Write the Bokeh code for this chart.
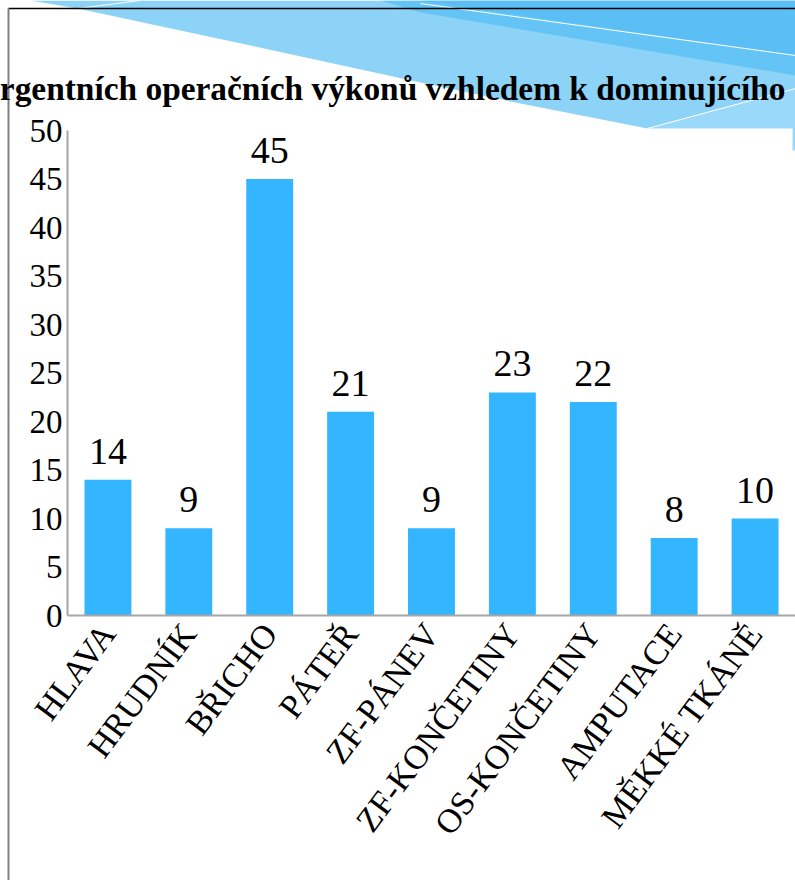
from bokeh.plotting import figure
from bokeh.models import (Range1d, ColumnDataSource, LabelSet, Label, LinearAxis,
                          PolyAnnotation, FixedTicker)
from bokeh.core.properties import value
from bokeh.embed import file_html
from bokeh.resources import INLINE

# ---- data ----
categories = ["HLAVA", "HRUDNÍK", "BŘICHO", "PÁTEŘ", "ZF-PÁNEV",
              "ZF-KONČETINY", "OS-KONČETINY", "AMPUTACE", "MĚKKÉ TKÁNĚ"]
values = [14, 9, 45, 21, 9, 23, 22, 8, 10]
y_ticks = [0, 5, 10, 15, 20, 25, 30, 35, 40, 45, 50]
title_text = "rgentních operačních výkonů vzhledem k dominujícího"

# ---- layout (page pixels) ----
W, H = 795, 880
AX_X, AX_Y, TOP_Y = 67, 615, 130          # y-axis x, value-0 y, value-50 y
PX_PER_UNIT = (AX_Y - TOP_Y) / 50.0
CAT_W = (W - AX_X) / len(categories)
FONT = "Liberation Serif"
BAR = "#33b5ff"
GRID = "#a6a6a6"

xpos = [i + 0.5 for i in range(len(categories))]
source = ColumnDataSource(dict(x=xpos, val=values, lab=[str(v) for v in values]))

p = figure(width=W, height=H, output_backend="svg", toolbar_location=None,
           x_range=Range1d(-AX_X / CAT_W, len(categories)),
           y_range=Range1d(-(H - AX_Y) / PX_PER_UNIT, 50 + TOP_Y / PX_PER_UNIT),
           x_axis_type=None, y_axis_type=None,
           min_border_left=0, min_border_right=0, min_border_top=0, min_border_bottom=0)
p.title.visible = False
p.outline_line_color = None
p.background_fill_color = "white"
p.border_fill_color = "white"


def scr(pts):
    """page pixel points -> screen units (decoration only)"""
    return [x for x, _ in pts], [H - y for _, y in pts]


def poly(pts, fill, line=None, lw=1, level="underlay"):
    xs, ys = scr(pts)
    p.add_layout(PolyAnnotation(xs=xs, ys=ys, xs_units="screen", ys_units="screen",
                                fill_color=fill, fill_alpha=1 if fill else 0,
                                line_color=line, line_width=lw, line_alpha=1,
                                level=level))


# decorative slide wave
poly([(30, 0), (795, 0), (795, 88), (647, 128), (520, 103), (420, 82), (250, 45), (77, 8)], "#8dd3f8")
poly([(647, 128), (795, 88), (795, 150), (792, 150), (792, 128)], "#9ad9f9")
poly([(380, 0), (795, 0), (795, 75), (420, 12)], "#64c4f6")
poly([(420, 0), (795, 0), (795, 55)], "#5bbff5")
poly([(647, 128), (795, 88)], None, "white", 1)
poly([(420, 3), (795, 55)], None, "white", 1)
poly([(77, 8), (140, 0)], None, "white", 1)
# slide frame lines
poly([(8, 8), (795, 8)], None, "black", 1.5)
poly([(8, 8), (8, 880)], None, "#808080", 2)

# grid
p.xgrid.grid_line_color = None
p.ygrid.ticker = FixedTicker(ticks=y_ticks)
p.ygrid.grid_line_color = GRID
p.ygrid.grid_line_width = 1.5
p.ygrid.bounds = (0, len(categories))

p.vbar(x="x", top="val", width=0.58, source=source, fill_color=BAR, line_color=None)

p.add_layout(LabelSet(x="x", y="val", text="lab", source=source, y_offset=16,
                      text_align="center", text_baseline="alphabetic",
                      text_font=value(FONT), text_font_size=value("38px"),
                      text_color=value("black")))

p.add_layout(Label(x=785, y=H - 88, x_units="screen", y_units="screen",
                   text=title_text, text_align="right", text_baseline="alphabetic",
                   text_font=FONT, text_font_style="bold", text_font_size="33.4px",
                   text_color="black"))

# axes, fixed at the data origin
yax = LinearAxis(fixed_location=0, ticker=FixedTicker(ticks=y_ticks), bounds=(0, 50))
yax.major_label_text_font = FONT
yax.major_label_text_font_size = "33px"
yax.major_label_text_color = "black"
yax.major_tick_out = 0
yax.major_tick_in = 0
yax.minor_tick_out = 0
yax.minor_tick_in = 0
yax.major_label_standoff = 5
yax.axis_line_color = GRID
yax.axis_line_width = 2
p.add_layout(yax, "left")

xax = LinearAxis(fixed_location=0, ticker=FixedTicker(ticks=xpos),
                 bounds=(0, len(categories)),
                 major_label_overrides={x: c for x, c in zip(xpos, categories)})
xax.major_label_orientation = 0.93
xax.major_label_text_font = FONT
xax.major_label_text_font_size = "34px"
xax.major_label_text_color = "black"
xax.major_tick_out = 0
xax.major_tick_in = 0
xax.minor_tick_out = 0
xax.minor_tick_in = 0
xax.major_label_standoff = 12
xax.axis_line_color = GRID
xax.axis_line_width = 2
p.add_layout(xax, "below")

open("out.html", "w").write(file_html(p, INLINE))
